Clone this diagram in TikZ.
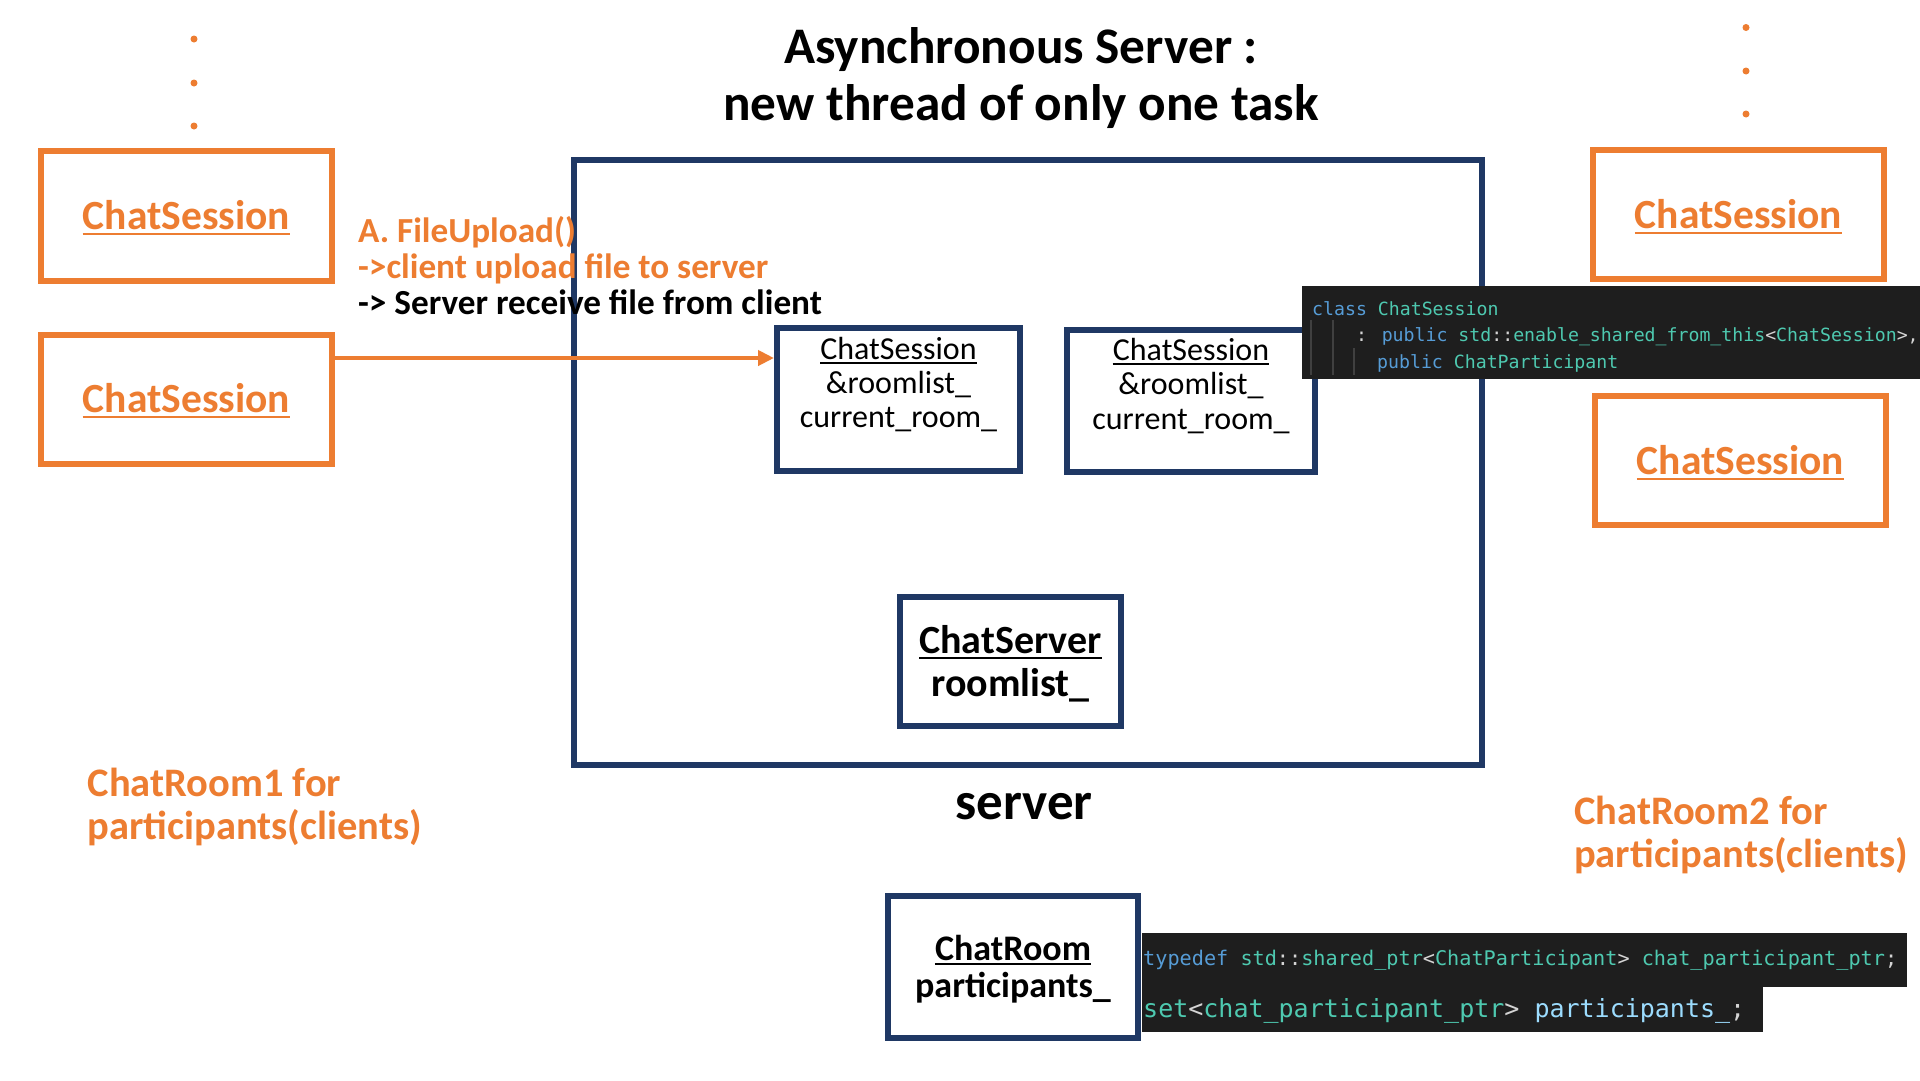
\documentclass[tikz,border=0pt]{standalone}
\usepackage{fontspec}
\setmainfont{Carlito}
\newfontfamily\codefont{DejaVu Sans Mono}
\usetikzlibrary{arrows.meta}
\definecolor{orng}{HTML}{ED7D31}
\definecolor{navy}{HTML}{1F3864}
\definecolor{codebg}{HTML}{1E1E1E}
\definecolor{ckw}{HTML}{569CD6}
\definecolor{cty}{HTML}{4EC9B0}
\definecolor{cpl}{HTML}{D4D4D4}
\definecolor{cvar}{HTML}{9CDCFE}
\definecolor{guide}{HTML}{404040}
\newcommand{\us}{\char"5F\relax}
\newcommand{\fs}[1]{\fontsize{#1}{#1}\selectfont}
\newcommand{\ulx}[3]{\draw[#2, line width=2pt] ([yshift=-#3pt]#1.base west) -- ([yshift=-#3pt]#1.base east);}
\begin{document}
\begin{tikzpicture}[x=1pt,y=-1pt,
  obox/.style={draw=orng, line width=6pt, inner sep=0pt, fill=white},
  nbox/.style={draw=navy, line width=6pt, inner sep=0pt},
  txt/.style={inner sep=0pt, anchor=base},
  txtl/.style={inner sep=0pt, anchor=base west},
  code/.style={inner sep=0pt, anchor=base west, font=\codefont},
  arr/.style={draw=orng, line width=4.5pt, -{Triangle[length=16pt,width=15pt]}},
  dotc/.style={fill=orng}]
\useasboundingbox[fill=white] (0,0) rectangle (1920,1080);

% title
\node[txt, font=\bfseries\fs{51.3}] (title1) at (1021,63) {Asynchronous Server :};
\node[txt, font=\bfseries\fs{51.3}] (title2) at (1021,120) {new thread of only one task};

% dots
\fill[dotc] (194,39) circle (3.5);
\fill[dotc] (194,83) circle (3.5);
\fill[dotc] (194,126) circle (3.5);
\fill[dotc] (1746,27.5) circle (3.5);
\fill[dotc] (1746,71) circle (3.5);
\fill[dotc] (1746,114) circle (3.5);

% server box
\node[nbox, minimum width=908pt, minimum height=605pt] (srv) at (1028,462.5) {};

% orange session boxes
\node[obox, minimum width=291pt, minimum height=130pt] (L1) at (186.5,216) {};
\node[obox, minimum width=291pt, minimum height=129pt] (L2) at (186.5,399.5) {};
\node[obox, minimum width=291pt, minimum height=129pt] (R1) at (1738.5,214.5) {};
\node[obox, minimum width=291pt, minimum height=129pt] (R2) at (1740.5,460.5) {};
\node[txt, text=orng, font=\bfseries\fs{41.5}] (tL1) at (186.5,229.3) {ChatSession};
\node[txt, text=orng, font=\bfseries\fs{41.5}] (tL2) at (186.5,412.8) {ChatSession};
\node[txt, text=orng, font=\bfseries\fs{41.5}] (tR1) at (1738.5,228) {ChatSession};
\node[txt, text=orng, font=\bfseries\fs{41.5}] (tR2) at (1740.5,474) {ChatSession};
\ulx{tL1}{orng}{4.5}
\ulx{tL2}{orng}{4.5}
\ulx{tR1}{orng}{4.5}
\ulx{tR2}{orng}{4.5}

% inner session boxes
\node[nbox, minimum width=243pt, minimum height=142.5pt] (in1) at (898.5,399.25) {};
\node[nbox, minimum width=248pt, minimum height=141.6pt] (in2) at (1191,400.8) {};
\node[txt, font=\fs{32}] (a1) at (898.5,359) {ChatSession};
\node[txt, font=\fs{32}] (a2) at (898.5,393) {\&roomlist\us};
\node[txt, font=\fs{32}] (a3) at (898.5,427) {current\us room\us};
\node[txt, font=\fs{32}] (b1) at (1191,360) {ChatSession};
\node[txt, font=\fs{32}] (b2) at (1191,394.5) {\&roomlist\us};
\node[txt, font=\fs{32}] (b3) at (1191,429) {current\us room\us};
\ulx{a1}{black}{3.5}
\ulx{b1}{black}{3.5}

% ChatServer box
\node[nbox, minimum width=221pt, minimum height=129pt] (cs) at (1010.5,661.5) {};
\node[txt, font=\bfseries\fs{40}] (cs1) at (1010.5,653.6) {ChatServer};
\node[txt, font=\bfseries\fs{40}] (cs2) at (1010.5,696) {roomlist\us};
\ulx{cs1}{black}{4.5}

% server label
\node[txt, font=\bfseries\fs{53}] (srvlab) at (1024,819) {server};

% ChatRoom box
\node[nbox, minimum width=250pt, minimum height=142pt] (cr) at (1013,967) {};
\node[txt, font=\bfseries\fs{36}] (cr1) at (1013,960) {ChatRoom};
\node[txt, font=\bfseries\fs{36}] (cr2) at (1013,997) {participants\us};
\ulx{cr1}{black}{3.5}

% room labels
\node[txtl, text=orng, font=\bfseries\fs{40.5}] (room1a) at (87.5,796) {ChatRoom1 for};
\node[txtl, text=orng, font=\bfseries\fs{40.5}] (room1b) at (87.5,839) {participants(clients)};
\node[txtl, text=orng, font=\bfseries\fs{40.5}] (room2a) at (1574,824) {ChatRoom2 for};
\node[txtl, text=orng, font=\bfseries\fs{40.5}] (room2b) at (1574,867) {participants(clients)};

% file upload label
\node[txtl, text=orng, font=\bfseries\fs{35.2}] (fu1) at (358,242) {A. FileUpload()};
\node[txtl, text=orng, font=\bfseries\fs{35.2}] (fu2) at (358,278) {->client upload file to server};
\node[txtl, text=black, font=\bfseries\fs{35.2}] (fu3) at (358,314) {-> Server receive file from client};

% arrow
\coordinate (ay) at (0,358);
\draw[arr] (L2.east |- ay) -- (in1.west |- ay);

% code block 1
\fill[codebg] (1302,286) rectangle (1920,379);
\draw[guide, line width=1.5pt] (1311,320) -- (1311,375);
\draw[guide, line width=1.5pt] (1333,320) -- (1333,375);
\draw[guide, line width=1.5pt] (1354,348) -- (1354,375);
\node[code, font=\codefont\fs{18.2}] (c1) at (1312,315) {\color{ckw}class \color{cty}ChatSession};
\node[code, font=\codefont\fs{18.2}] (c2) at (1356,341) {\color{cpl}: \color{ckw}public \color{cty}std\color{cpl}::\color{cty}enable\us shared\us from\us this\color{cpl}<\color{cty}ChatSession\color{cpl}>,};
\node[code, font=\codefont\fs{18.2}] (c3) at (1377,368) {\color{ckw}public \color{cty}ChatParticipant};

% code block 2
\fill[codebg] (1142,933) rectangle (1907,987);
\fill[codebg] (1142,987) rectangle (1763,1032);
\node[code, font=\codefont\fs{20.2}] (d1) at (1143,965) {\color{ckw}typedef \color{cty}std\color{cpl}::\color{cty}shared\us ptr\color{cpl}<\color{cty}ChatParticipant\color{cpl}> \color{cty}chat\us participant\us ptr\color{cpl};};
\node[code, font=\codefont\fs{25}] (d2) at (1143,1017) {\color{cty}set\color{cpl}<\color{cty}chat\us participant\us ptr\color{cpl}> \color{cvar}participants\us\color{cpl};};
\end{tikzpicture}
\end{document}
